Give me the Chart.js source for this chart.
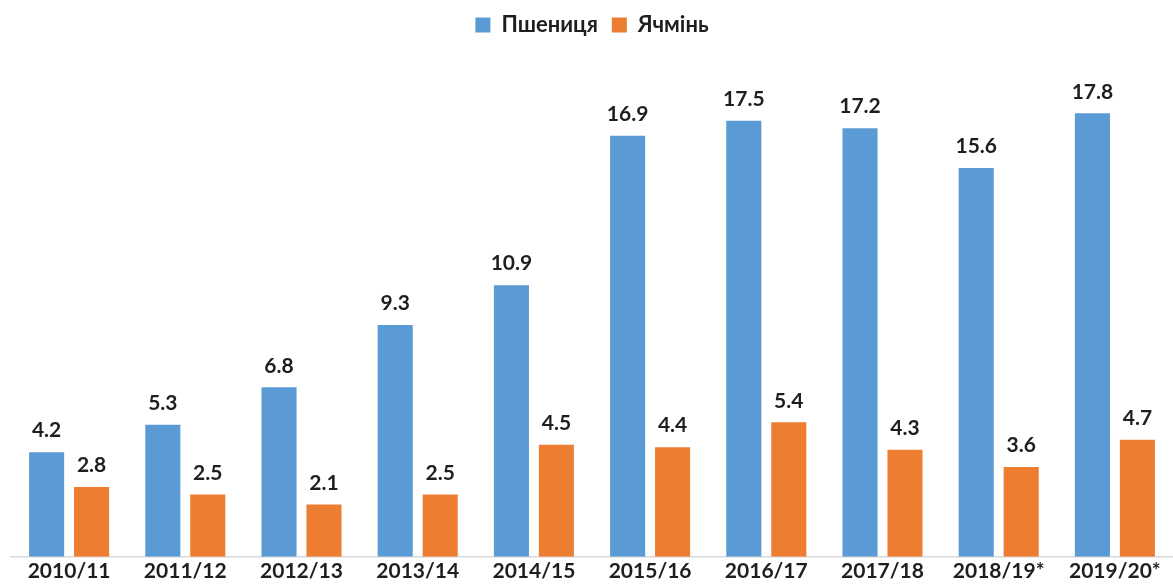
<!DOCTYPE html>
<html>
<head>
<meta charset="utf-8">
<script src="https://cdn.jsdelivr.net/npm/chart.js@4"></script>
<style>
html,body{margin:0;padding:0;background:#fff;}
#wrap{width:1173px;height:586px;position:relative;}
</style>
</head>
<body>
<div id="wrap"><canvas id="c" width="1173" height="586"></canvas></div>
<script>
const categories = ["2010/11","2011/12","2012/13","2013/14","2014/15","2015/16","2016/17","2017/18","2018/19*","2019/20*"];
const wheat = [4.2,5.3,6.8,9.3,10.9,16.9,17.5,17.2,15.6,17.8];
const barley = [2.8,2.5,2.1,2.5,4.5,4.4,5.4,4.3,3.6,4.7];
const seriesNames = ["Пшениця","Ячмінь"];

const labelPlugin = {
  id: 'valueLabels',
  afterDatasetsDraw(chart) {
    const ctx = chart.ctx;
    ctx.save();
    ctx.font = 'bold 21px Lato';
    ctx.fillStyle = '#1e1e1e';
    ctx.textAlign = 'center';
    ctx.textBaseline = 'bottom';
    chart.data.datasets.forEach((ds, i) => {
      const meta = chart.getDatasetMeta(i);
      meta.data.forEach((bar, j) => {
        ctx.fillText(ds.data[j].toFixed(1), bar.x, bar.y - 11);
      });
    });
    ctx.restore();
  }
};

new Chart(document.getElementById('c'), {
  type: 'bar',
  data: {
    labels: categories,
    datasets: [
      {label: seriesNames[0], data: wheat, backgroundColor: '#5B9BD5', categoryPercentage: 0.774, barPercentage: 0.78},
      {label: seriesNames[1], data: barley, backgroundColor: '#ED7D31', categoryPercentage: 0.774, barPercentage: 0.78}
    ]
  },
  options: {
    responsive: false,
    animation: false,
    devicePixelRatio: 1,
    layout: {padding: {left: 11, right: 0, top: 0, bottom: 0}},
    plugins: {
      legend: {
        position: 'top',
        labels: {
          font: {family: 'Lato', size: 22, weight: 'bold'},
          color: '#1e1e1e',
          boxWidth: 15, boxHeight: 15,
          padding: 14
        }
      },
      tooltip: {enabled: false}
    },
    scales: {
      y: {display: false, min: 0, max: 20.5},
      x: {
        grid: {display: false, drawTicks: false},
        border: {display: true, color: '#d9d9d9', width: 1.5},
        ticks: {font: {family: 'Lato', size: 21, weight: 'bold'}, color: '#1e1e1e', padding: 2}
      }
    }
  },
  plugins: [labelPlugin]
});
</script>
</body>
</html>
